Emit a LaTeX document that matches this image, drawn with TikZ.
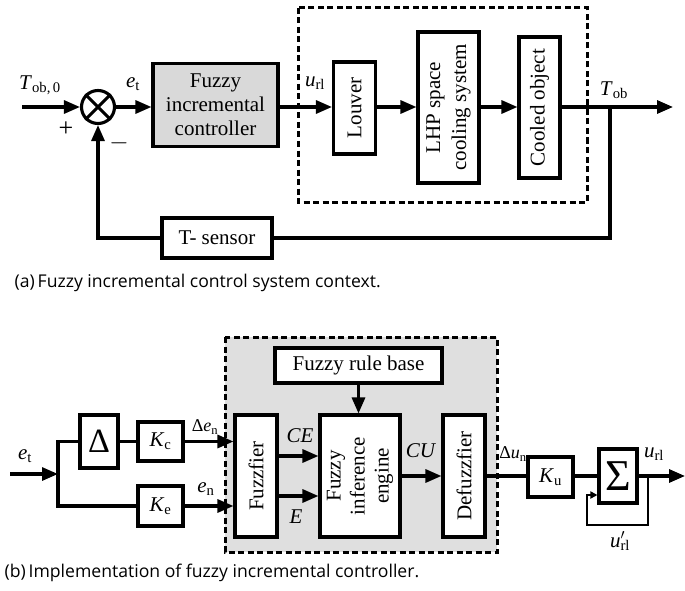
\documentclass[tikz,border=0pt]{standalone}
\usepackage{fontspec}
\setmainfont{Liberation Serif}
\newfontfamily\capfont{Open Sans}
\usetikzlibrary{arrows.meta}
\newcommand\vsub[2]{\textit{#1}\textsubscript{#2}}
\newcommand\GDelta{\char"0394\relax}
\newcommand\GSigma{\char"03A3\relax}
\begin{document}
\begin{tikzpicture}[x=1pt,y=-1pt,
  font=\fontsize{21}{24}\selectfont,
  line width=3.1pt,
  blk/.style={draw,line width=3.1pt,inner sep=0pt,align=center},
  arr/.style={-{Triangle[length=16pt,width=13pt]}},
  sarr/.style={-{Triangle[length=7pt,width=7pt]}},
  dbox/.style={line width=3pt,dash pattern=on 6pt off 3.5pt},
  lbl/.style={inner sep=0pt},
  captxt/.style={inner sep=0pt,anchor=west,font=\capfont\fontsize{17.6}{20}\selectfont}]
\useasboundingbox (0,0) rectangle (685,591);
% ---------- (a) ----------
\draw[dbox] (298,8) rectangle (587,202);
\node[draw,circle,line width=3.1pt,minimum size=33pt,inner sep=0pt] (sum) at (98,107) {};
\draw[line width=3.1pt] (sum.north east) -- (sum.south west) (sum.north west) -- (sum.south east);
\node[blk,fill=gray!30,minimum width=125pt,minimum height=83pt] (fic) at (215.5,105) {Fuzzy\\incremental\\controller};
\node[blk,minimum width=42pt,minimum height=92pt] (louver) at (354.5,108) {};
\node[rotate=90,lbl] (louvert) at (louver.center) {Louver};
\node[blk,minimum width=61pt,minimum height=151pt] (lhp) at (448.5,107.5) {};
\node[rotate=90,lbl,align=center,font=\fontsize{21}{26}\selectfont] (lhpt) at (lhp.center) {LHP space\\cooling system};
\node[blk,minimum width=41pt,minimum height=141pt] (cooled) at (539.5,107.5) {};
\node[rotate=90,lbl] (cooledt) at (cooled.center) {Cooled object};
\node[blk,minimum width=110pt,minimum height=40pt] (sensor) at (217,238) {T- sensor};
\coordinate (in) at (22,107);
\coordinate (out) at (673,107);
\coordinate (br) at (610,107);
\draw[arr] (in) -- (sum.west);
\draw[arr] (sum.east) -- (fic.west |- sum.east);
\draw[arr] (fic.east |- sum.east) -- (louver.west |- sum.east);
\draw[arr] (louver.east |- sum.east) -- (lhp.west |- sum.east);
\draw[arr] (lhp.east |- sum.east) -- (cooled.west |- sum.east);
\draw[arr] (cooled.east |- sum.east) -- (out);
\draw (br) |- (sensor.east);
\draw[arr] (sensor.west) -| (sum.south);
\node[lbl] (t0) at (40,85) {\vsub{T}{ob,\,0}};
\node[lbl] (et) at (133,84) {\vsub{e}{t}};
\node[lbl,font=\fontsize{26}{26}\selectfont] (plus) at (66,129) {+};
\node[lbl,font=\fontsize{26}{26}\selectfont] (minus) at (119,143) {$-$};
\node[lbl] (url) at (315,83) {\vsub{u}{rl}};
\node[lbl] (tob) at (614,90) {\vsub{T}{ob}};
\node[captxt] (capa) at (13,283) {(a)\,Fuzzy incremental control system context.};
% ---------- (b) ----------
\draw[dbox,fill=gray!25] (225,337) rectangle (497,552);
\node[blk,fill=white,minimum width=167pt,minimum height=35pt] (rule) at (358.5,365.5) {Fuzzy rule base};
\node[blk,fill=white,minimum width=42pt,minimum height=122pt] (fuzz) at (256,476) {};
\node[rotate=90,lbl] (fuzzt) at (fuzz.center) {Fuzzfier};
\node[blk,fill=white,minimum width=80pt,minimum height=122pt] (fie) at (360,476) {};
\node[rotate=90,lbl,align=center,font=\fontsize{21}{24}\selectfont] (fiet) at (fie.center) {Fuzzy\\inference\\engine};
\node[blk,fill=white,minimum width=42pt,minimum height=122pt] (defuzz) at (464,476) {};
\node[rotate=90,lbl] (defuzzt) at (defuzz.center) {Defuzzfier};
\node[blk,minimum width=38pt,minimum height=53pt,font=\fontsize{34}{34}\selectfont] (delta) at (99,441.5) {\GDelta};
\node[blk,minimum width=45pt,minimum height=39pt] (kc) at (160.5,441.5) {\vsub{K}{c}};
\node[blk,minimum width=45pt,minimum height=40pt] (ke) at (160.5,506) {\vsub{K}{e}};
\node[blk,minimum width=45pt,minimum height=40pt] (ku) at (550.5,477) {\vsub{K}{u}};
\node[blk,minimum width=38pt,minimum height=54pt,font=\fontsize{44}{44}\selectfont] (sig) at (618,476) {\GSigma};
\coordinate (bin) at (10,474);
\coordinate (bsplit) at (58,474);
\coordinate (bout) at (685,476);
\coordinate (fbr) at (648,476);
\coordinate (fbl) at (587,525);
\draw[arr] (bin) -- (bsplit);
\draw (bsplit) |- (delta.west);
\draw (bsplit) |- (ke.west);
\draw (delta.east) -- (kc.west);
\draw[arr] (kc.east) -- (fuzz.west |- kc.east);
\draw[arr] (ke.east) -- (fuzz.west |- ke.east);
\draw[arr] ([yshift=20pt]fuzz.east) -- ([yshift=20pt]fie.west);
\draw[arr] ([yshift=-20pt]fuzz.east) -- ([yshift=-20pt]fie.west);
\draw[arr] (fie.east) -- (defuzz.west);
\draw[arr] (rule.south) -- (rule.south |- fie.north);
\draw (defuzz.east) -- (ku.west |- defuzz.east);
\draw (ku.east |- defuzz.east) -- (sig.west |- defuzz.east);
\draw[arr] (sig.east) -- (bout);
\draw[sarr,line width=2.4pt] (fbr) |- (fbl) |- ([yshift=-19pt]sig.west);
\node[lbl] (etb) at (25,456) {\vsub{e}{t}};
\node[lbl,font=\fontsize{18}{18}\selectfont] (den) at (205,427) {\GDelta\vsub{e}{n}};
\node[lbl] (en) at (206,489) {\vsub{e}{n}};
\node[lbl] (ce) at (300,436) {\textit{CE}};
\node[lbl] (e) at (296,517) {\textit{E}};
\node[lbl] (cu) at (421,451) {\textit{CU}};
\node[lbl,font=\fontsize{18}{18}\selectfont] (dun) at (513,454) {\GDelta\vsub{u}{n}};
\node[lbl] (urlb) at (654,454) {\vsub{u}{rl}};
\node[lbl] (urlp) at (620,541) {\textit{u}\rlap{\raisebox{8pt}{\fontsize{14}{14}\selectfont$\prime$}}\textsubscript{rl}};
\node[captxt] (capb) at (3,573) {(b)\,Implementation of fuzzy incremental controller.};
\end{tikzpicture}
\end{document}
